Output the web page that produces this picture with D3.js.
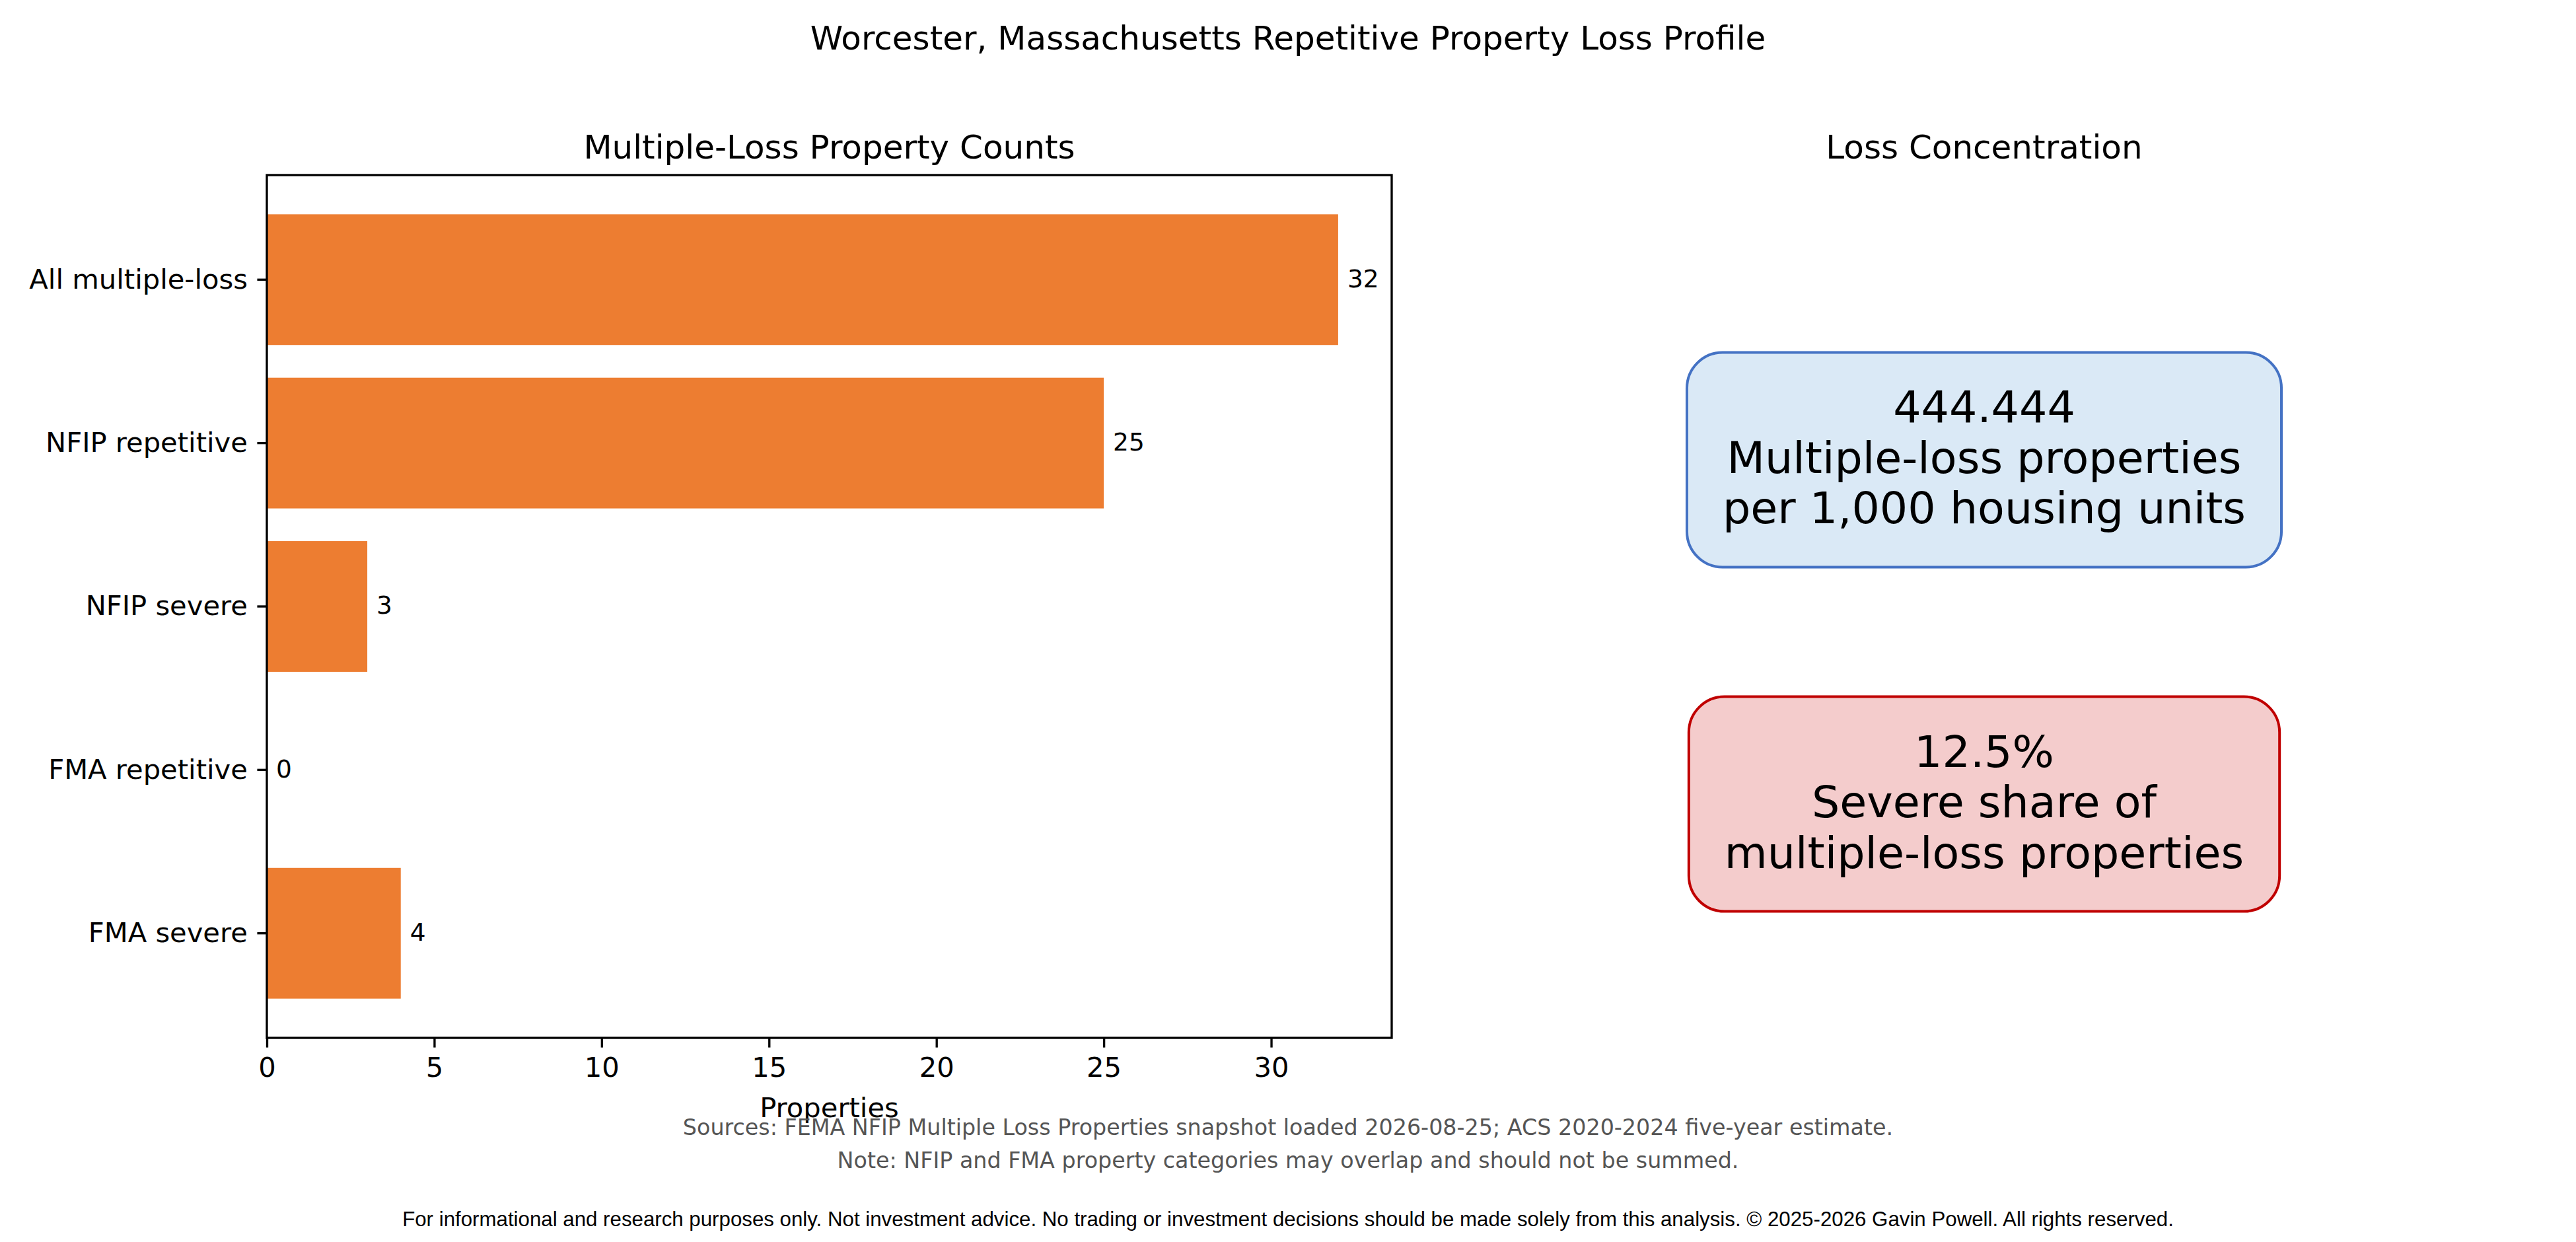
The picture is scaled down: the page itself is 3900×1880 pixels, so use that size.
<!DOCTYPE html>
<html>
<head>
<meta charset="utf-8">
<script src="https://cdn.jsdelivr.net/npm/d3@7/dist/d3.min.js"></script>
<style>
  body { margin: 0; background: #fff; }
  text { font-family: "DejaVu Sans", sans-serif; fill: #000; }
</style>
</head>
<body>
<div id="chart"></div>
<script>
// data
const categories = ["All multiple-loss", "NFIP repetitive", "NFIP severe", "FMA repetitive", "FMA severe"];
const counts = [32, 25, 3, 0, 4];
const xTicks = [0, 5, 10, 15, 20, 25, 30];
const kpiValues = ["444.444", "12.5%"];
const kpiLabels = [["Multiple-loss properties", "per 1,000 housing units"],
                   ["Severe share of", "multiple-loss properties"]];
const kpiFills = ["#dae9f6", "#f4cccc"];
const kpiStrokes = ["#4472c4", "#c00000"];
const footerLines = ["Sources: FEMA NFIP Multiple Loss Properties snapshot loaded 2026-08-25; ACS 2020-2024 five-year estimate.",
                     "Note: NFIP and FMA property categories may overlap and should not be summed."];
const disclaimer = "For informational and research purposes only. Not investment advice. No trading or investment decisions should be made solely from this analysis. \u00a9 2025-2026 Gavin Powell. All rights reserved.";

// layout
const W = 3900, H = 1880;
const plot = {left: 404, right: 2107, top: 265, bottom: 1571};
const panel = {cx: 3004, top: 265, bottom: 1571};
const kpiAnchor = [0.67, 0.271];   // axes-fraction centres of the two boxes
const pt = 300 / 72;               // px per point
const barColor = "#ed7d31";

const svg = d3.select("#chart")
  .append("svg")
  .attr("width", W)
  .attr("height", H);

svg.append("rect").attr("width", W).attr("height", H).attr("fill", "#fff");

// figure title
svg.append("text")
   .attr("x", W / 2)
   .attr("y", 75)
   .attr("text-anchor", "middle")
   .style("font-size", (12 * pt) + "px")
   .text("Worcester, Massachusetts Repetitive Property Loss Profile");

// ---- left panel: bar chart
const xMax = d3.max(counts) * 1.05;
const xScale = d3.scaleLinear()
                 .domain([0, xMax])
                 .range([plot.left, plot.right]);
const yScale = d3.scaleBand()
                 .domain(categories)
                 .range([plot.top, plot.bottom])
                 .paddingInner(0.2)
                 .paddingOuter(0.24);

svg.append("text")
   .attr("x", (plot.left + plot.right) / 2)
   .attr("y", plot.top - 25)
   .attr("text-anchor", "middle")
   .style("font-size", (12 * pt) + "px")
   .text("Multiple-Loss Property Counts");

const barData = categories.map((c, i) => ({cat: c, value: counts[i]}));

svg.selectAll(".bar")
   .data(barData)
   .enter()
   .append("rect")
   .attr("class", "bar")
   .attr("x", xScale(0))
   .attr("y", d => yScale(d.cat))
   .attr("width", d => xScale(d.value) - xScale(0))
   .attr("height", yScale.bandwidth())
   .attr("fill", barColor);

svg.selectAll(".barLabel")
   .data(barData)
   .enter()
   .append("text")
   .attr("class", "barLabel")
   .attr("x", d => xScale(d.value) + 14)
   .attr("y", d => yScale(d.cat) + yScale.bandwidth() / 2)
   .attr("dy", "0.3em")
   .style("font-size", (9 * pt) + "px")
   .text(d => d.value);

const tickLen = 3.5 * pt;
const xAxis = svg.append("g")
   .attr("transform", "translate(0," + plot.bottom + ")")
   .call(d3.axisBottom(xScale)
           .tickValues(xTicks)
           .tickSize(tickLen)
           .tickPadding(tickLen));
const yAxis = svg.append("g")
   .attr("transform", "translate(" + plot.left + ",0)")
   .call(d3.axisLeft(yScale)
           .tickSize(tickLen)
           .tickPadding(tickLen));
[xAxis, yAxis].forEach(g => {
  g.select(".domain").remove();
  g.selectAll(".tick line").attr("stroke", "#000").attr("stroke-width", 0.8 * pt);
  g.selectAll(".tick text")
   .attr("fill", "#000")
   .style("font-family", "DejaVu Sans")
   .style("font-size", (10 * pt) + "px");
});

// spines
svg.append("rect")
   .attr("x", plot.left)
   .attr("y", plot.top)
   .attr("width", plot.right - plot.left)
   .attr("height", plot.bottom - plot.top)
   .attr("fill", "none")
   .attr("stroke", "#000")
   .attr("stroke-width", 0.8 * pt);

svg.append("text")
   .attr("x", (plot.left + plot.right) / 2)
   .attr("y", 1691)
   .attr("text-anchor", "middle")
   .style("font-size", (10 * pt) + "px")
   .text("Properties");

// ---- right panel: KPI boxes
const panelY = d3.scaleLinear().domain([0, 1]).range([panel.bottom, panel.top]);

svg.append("text")
   .attr("x", panel.cx)
   .attr("y", panel.top - 25)
   .attr("text-anchor", "middle")
   .style("font-size", (12 * pt) + "px")
   .text("Loss Concentration");

const kpiFont = 16 * pt;
const lineGap = 76.5;
const boxPad = 54;

kpiValues.forEach((v, i) => {
  const cy = panelY(kpiAnchor[i]);
  const g = svg.append("g");
  const box = g.append("rect");
  const lines = [v].concat(kpiLabels[i]);
  const txt = g.append("text")
               .attr("text-anchor", "middle")
               .style("font-size", kpiFont + "px");
  txt.selectAll("tspan")
     .data(lines)
     .enter()
     .append("tspan")
     .attr("x", panel.cx)
     .attr("y", (d, j) => cy + 20 + (j - 1) * lineGap)
     .text(d => d);
  const bw = txt.node().getBBox().width + 2 * boxPad;
  const bh = 2 * lineGap + 64 + 2 * boxPad;
  box.attr("x", panel.cx - bw / 2)
     .attr("y", cy - bh / 2)
     .attr("width", bw)
     .attr("height", bh)
     .attr("rx", boxPad)
     .attr("ry", boxPad)
     .attr("fill", kpiFills[i])
     .attr("stroke", kpiStrokes[i])
     .attr("stroke-width", 4);
});

// ---- footer
svg.selectAll(".note")
   .data(footerLines)
   .enter()
   .append("text")
   .attr("class", "note")
   .attr("x", W / 2)
   .attr("y", (d, i) => 1718 + i * 50)
   .attr("text-anchor", "middle")
   .style("font-size", (8 * pt) + "px")
   .style("fill", "#555555")
   .text(d => d);

svg.append("text")
   .attr("x", W / 2)
   .attr("y", 1856)
   .attr("text-anchor", "middle")
   .style("font-family", "\"Liberation Sans\", Arial, sans-serif")
   .style("font-size", (7.5 * pt) + "px")
   .text(disclaimer);
</script>
</body>
</html>
